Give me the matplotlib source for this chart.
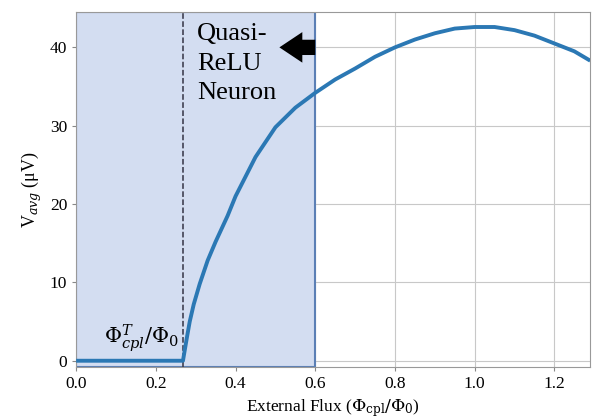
import numpy as np
import matplotlib.pyplot as plt

# values
flux = [0.0, 0.1, 0.2, 0.268, 0.272, 0.278, 0.285, 0.295, 0.31, 0.33, 0.35, 0.38, 0.40, 0.45,
        0.50, 0.55, 0.60, 0.65, 0.70, 0.75, 0.80, 0.85, 0.90, 0.95, 1.00,
        1.05, 1.10, 1.15, 1.20, 1.25, 1.29]
v_avg = [0.0, 0.0, 0.0, 0.0, 1.2, 3.0, 5.0, 7.2, 9.8, 12.8, 15.2, 18.5, 21.0, 26.0,
         29.8, 32.3, 34.2, 35.9, 37.3, 38.8, 40.0, 41.0, 41.8, 42.4, 42.6,
         42.6, 42.2, 41.5, 40.5, 39.5, 38.3]
threshold = 0.268
region_end = 0.6
x_ticks = [0.0, 0.2, 0.4, 0.6, 0.8, 1.0, 1.2]
y_ticks = [0, 10, 20, 30, 40]

plt.rcParams['font.family'] = ['Liberation Serif', 'DejaVu Serif']
plt.rcParams['mathtext.fontset'] = 'dejavuserif'

fig = plt.figure(figsize=(5.95, 4.18), dpi=100)
ax = fig.add_axes([0.128, 0.122, 0.864, 0.849])

ax.axvspan(0, region_end, facecolor='#d3ddf1', edgecolor='#5b7fb5', lw=1.5, zorder=1)
ax.grid(True, color='#c8c8c8', lw=0.8, zorder=0)
ax.set_axisbelow(True)
ax.axvline(threshold, color='#333344', ls='--', lw=1.1, zorder=2)
ax.plot(flux, v_avg, color='#2b78b4', lw=2.8, zorder=3, solid_capstyle='butt')

ax.text(0.303, 43.1, 'Quasi-\nReLU\nNeuron', fontsize=19, va='top', ha='left',
        linespacing=1.45, zorder=4)
ax.annotate('', xy=(0.51, 40), xytext=(0.6, 40),
            arrowprops=dict(arrowstyle='simple,head_length=0.75,head_width=1.0,tail_width=0.5',
                            mutation_scale=22, color='black', lw=0,
                            shrinkA=0, shrinkB=0), zorder=4)
ax.text(0.258, 0.9, r'$\Phi^T_{cpl}/\Phi_0$', fontsize=15, ha='right', va='bottom', zorder=4)

ax.set_xlim(0, 1.29)
ax.set_ylim(-0.8, 44.5)
ax.set_xticks(x_ticks)
ax.set_yticks(y_ticks)
ax.tick_params(labelsize=12.5, color='#888888', length=3)
for s in ax.spines.values():
    s.set_color('#999999')
ax.set_xlabel(r'External Flux ($\Phi_{\rm cpl}/\Phi_0$)', fontsize=12.5)
ax.set_ylabel(r'V$_{avg}$ (μV)', fontsize=13)

fig.savefig('out.png', dpi=100)
